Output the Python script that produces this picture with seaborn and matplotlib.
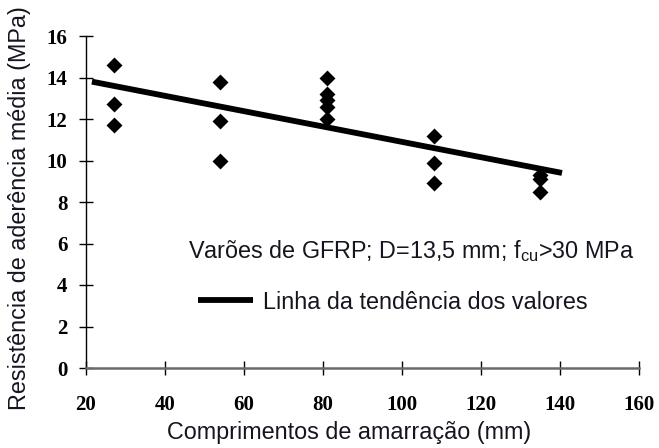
import matplotlib
matplotlib.use("Agg")
import matplotlib.pyplot as plt
import seaborn as sns
import pandas as pd

# Data
x_vals = [27, 27, 27, 54, 54, 54, 81, 81, 81, 81, 81, 108, 108, 108, 135, 135, 135]
y_vals = [14.6, 12.7, 11.7, 13.8, 11.9, 10.0, 14.0, 13.2, 12.9, 12.6, 12.0, 11.2, 9.9, 8.9, 9.3, 9.1, 8.5]
trend_x = [21.5, 140.5]
trend_y = [13.8, 9.4]
x_ticks = [20, 40, 60, 80, 100, 120, 140, 160]
y_ticks = [0, 2, 4, 6, 8, 10, 12, 14, 16]
title_text = r"Varões de GFRP; D=13,5 mm; f$_{\mathrm{cu}}$>30 MPa"
legend_label = "Linha da tendência dos valores"
x_label = "Comprimentos de amarração (mm)"
y_label = "Resistência de aderência média (MPa)"

sns.set_style("white")
plt.rcParams['font.family'] = ['Liberation Sans', 'DejaVu Sans']
plt.rcParams['mathtext.fontset'] = 'custom'
plt.rcParams['mathtext.rm'] = 'Liberation Sans'
plt.rcParams['mathtext.it'] = 'Liberation Sans:italic'

W, H = 659, 448
TXT = "#15151f"
FS = 16.8
fig = plt.figure(figsize=(W / 100, H / 100), dpi=100)
ax = fig.add_axes([86 / W, 1 - 368 / H, (639 - 86) / W, (368 - 36) / H])

pts = pd.DataFrame({"x": x_vals, "y": y_vals})
trend = pd.DataFrame({"x": trend_x, "y": trend_y})

sns.scatterplot(data=pts, x="x", y="y", marker="D", s=66, color="black",
                linewidth=0, ax=ax, zorder=3)
sns.lineplot(data=trend, x="x", y="y", color="black", linewidth=4.2, ax=ax,
             label=legend_label, zorder=4, solid_capstyle="butt")

ax.set_xlim(20, 160)
ax.set_ylim(0, 16)
ax.set_xticks(x_ticks)
ax.set_yticks(y_ticks)
ax.set_xticklabels([str(v) for v in x_ticks], family="Liberation Serif",
                   fontsize=15, fontweight="bold")
ax.set_yticklabels([str(v) for v in y_ticks], family="Liberation Serif",
                   fontsize=15, fontweight="bold")

ax.tick_params(axis="both", direction="inout", length=10.5, width=1.0,
               colors="black", bottom=True, left=True)
ax.tick_params(axis="x", pad=14)
ax.tick_params(axis="y", pad=8)

for s in ["top", "right"]:
    ax.spines[s].set_visible(False)
ax.spines["left"].set_color("black")
ax.spines["left"].set_linewidth(1.0)
ax.spines["bottom"].set_color("#6a6a6a")
ax.spines["bottom"].set_linewidth(1.8)

ax.set_xlabel(x_label, fontsize=FS, color=TXT)
ax.set_ylabel(y_label, fontsize=FS, color=TXT)
ax.xaxis.set_label_coords((349 - 86) / 553, (368 - 432) / 332)
ax.xaxis.label.set_va("center")
ax.yaxis.set_label_coords((20 - 86) / 553, (368 - 208) / 332)
ax.yaxis.label.set_va("center")

fig.text(188 / W, 1 - 258 / H, title_text, fontsize=FS, color=TXT,
         ha="left", va="baseline")

leg = ax.legend(loc="center left", bbox_to_anchor=(198 / W, 1 - 302 / H),
                bbox_transform=fig.transFigure, frameon=False, fontsize=FS,
                handlelength=2.35, handletextpad=0.43, borderpad=0, borderaxespad=0)
for t in leg.get_texts():
    t.set_color(TXT)
for l in leg.get_lines():
    l.set_linewidth(4.2)

fig.savefig("out.png", dpi=100)
